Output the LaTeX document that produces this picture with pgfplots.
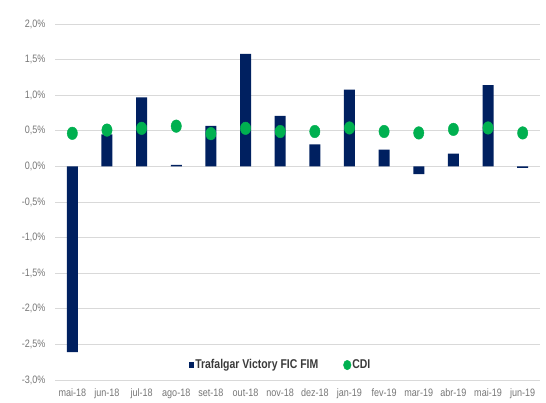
\documentclass[border=0pt]{standalone}
\usepackage{pgfplots}
\pgfplotsset{compat=1.18}
\usepackage{fontspec}
\setmainfont{Liberation Sans}[FakeStretch=0.84]
\newfontfamily\legfont{Liberation Sans}[FakeStretch=0.82]
\definecolor{navy}{HTML}{002060}
\definecolor{cdigreen}{HTML}{00B050}
\definecolor{gridgray}{HTML}{D9D9D9}
\definecolor{ticktext}{HTML}{767676}
\definecolor{legtext}{HTML}{3A3A3A}
\begin{document}
\begin{tikzpicture}
\path[use as bounding box] (-55bp,-23bp) rectangle (491bp,380bp);
\begin{axis}[
  at={(0,0)}, anchor=south west,
  scale only axis, width=485bp, height=356bp,
  xmin=-0.5, xmax=13.5, ymin=-3, ymax=2,
  xtick={0,...,13},
  xticklabels={mai-18,jun-18,jul-18,ago-18,set-18,out-18,nov-18,dez-18,jan-19,fev-19,mar-19,abr-19,mai-19,jun-19},
  ytick={-3,-2.5,...,2},
  yticklabel={\pgfmathprintnumber[fixed,fixed zerofill,precision=1,use comma]{\tick}\%},
  /pgf/number format/assume math mode=true,
  tick label style={font=\fontsize{10.8}{12}\selectfont, text=ticktext},
  yticklabel style={xshift=-6bp},
  xticklabel style={yshift=-5bp},
  major tick length=0pt,
  axis line style={draw=none},
  ymajorgrids, grid style={gridgray, line width=0.9bp},
  legend style={at={(0.464,0.042)}, anchor=center, draw=none, fill=none,
    font=\legfont\bfseries\fontsize{12.8}{14}\selectfont, text=legtext,
    /tikz/every even column/.append style={column sep=24bp},
    /tikz/every odd column/.append style={column sep=0bp},
    nodes={inner xsep=1bp}},
  legend columns=2,
  legend cell align=left,
]
\addplot[ybar, bar width=11bp, fill=navy, draw=none, bar shift=0pt,
  legend image code/.code={\fill[navy] (1bp,-3bp) rectangle (6.5bp,3bp);}]
  coordinates {(0,-2.61) (1,0.45) (2,0.97) (3,0.02) (4,0.57) (5,1.58) (6,0.71) (7,0.31) (8,1.08) (9,0.235) (10,-0.11) (11,0.18) (12,1.14) (13,-0.02)};
\addlegendentry{Trafalgar Victory FIC FIM}
\addplot[only marks, mark=*, mark size=6.3bp, mark options={xscale=0.82, fill=cdigreen, draw=cdigreen},
  legend image code/.code={\fill[cdigreen] (3.5bp,0bp) ellipse (3.8bp and 4.8bp);}]
  coordinates {(0,0.465) (1,0.51) (2,0.535) (3,0.565) (4,0.46) (5,0.535) (6,0.49) (7,0.49) (8,0.54) (9,0.49) (10,0.47) (11,0.52) (12,0.54) (13,0.47)};
\addlegendentry{CDI}
\end{axis}
\end{tikzpicture}
\end{document}
